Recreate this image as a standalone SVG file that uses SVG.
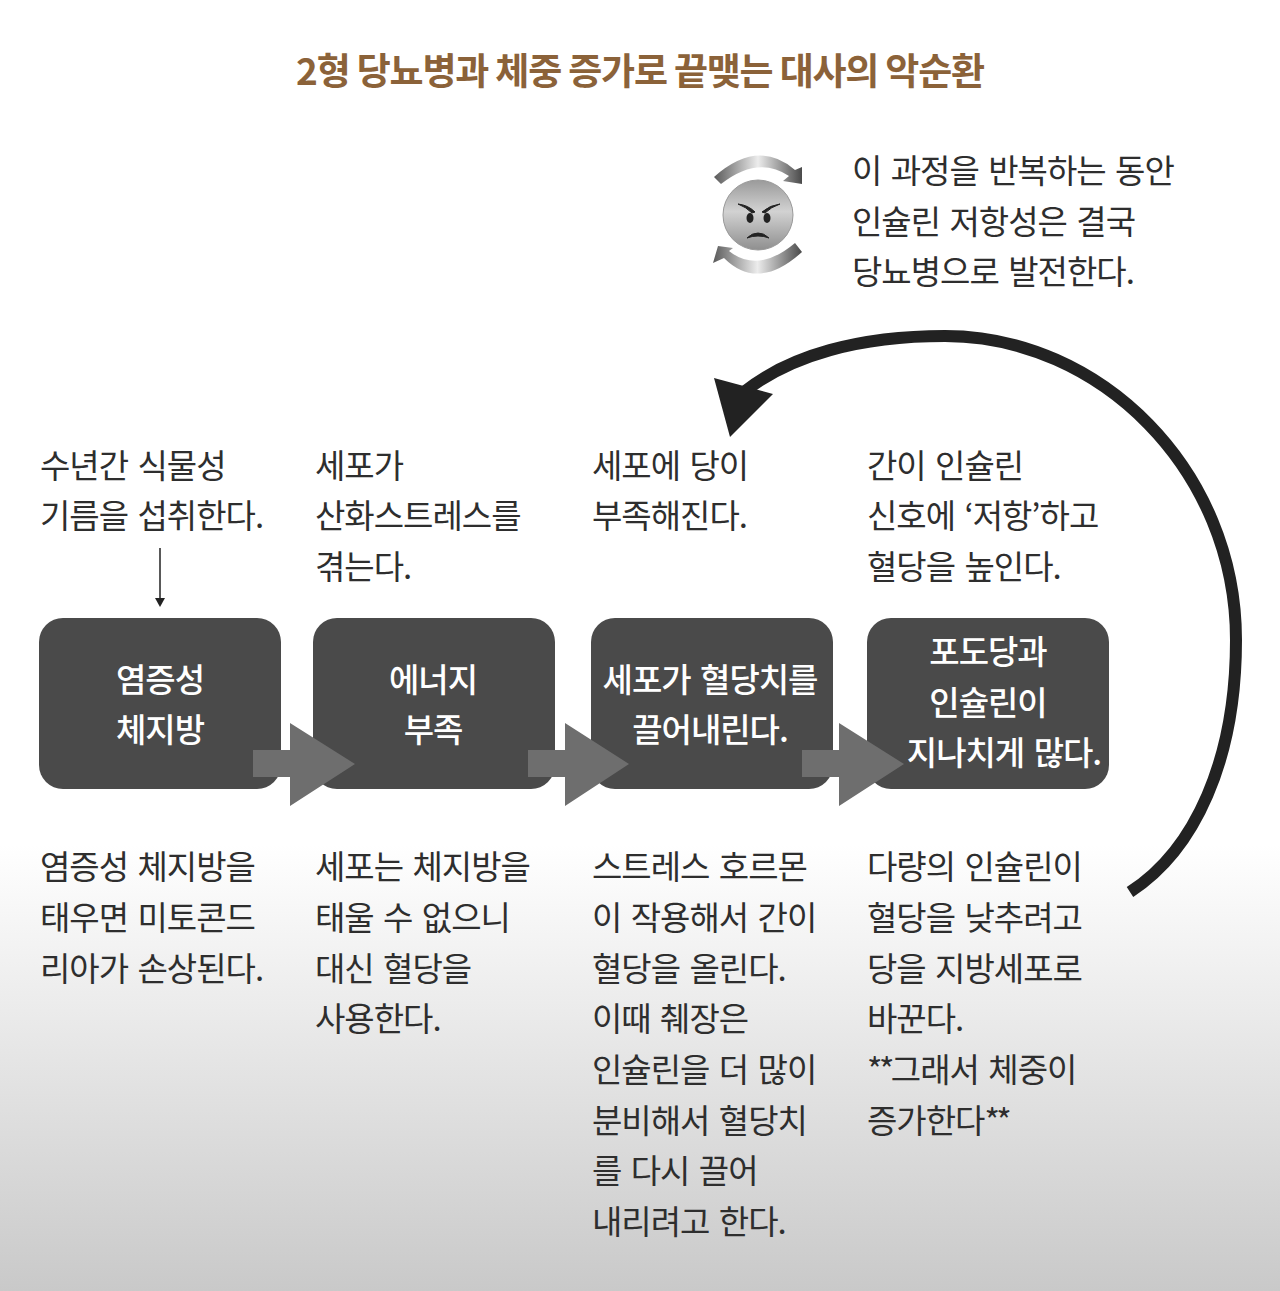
<svg xmlns="http://www.w3.org/2000/svg" width="1280" height="1291" viewBox="0 0 1280 1291">
<style>
text{font-family:"Noto Sans CJK KR","Noto Sans",sans-serif}
.t{font-size:33px;fill:#2e2e2e;font-weight:400;letter-spacing:-1px;word-spacing:3px}
.n{font-size:33px;fill:#fff;font-weight:500;text-anchor:middle;letter-spacing:-1px;word-spacing:3px}
.s{letter-spacing:-3.5px}
.box{fill:#4a4a4a}
.ga{fill:#6e6e6e}
</style>
<defs>
<linearGradient id="bg" x1="0" y1="0" x2="0" y2="1"><stop offset="0" stop-color="#fff"/><stop offset="1" stop-color="#c9c9c9"/></linearGradient>
<linearGradient id="face" x1="0" y1="0" x2="0" y2="1"><stop offset="0" stop-color="#9a9a9a"/><stop offset=".45" stop-color="#d2d2d2"/><stop offset="1" stop-color="#8f8f8f"/></linearGradient>
<linearGradient id="sw" x1="0" y1="0" x2="1" y2="0"><stop offset="0" stop-color="#5a5a5a"/><stop offset=".5" stop-color="#ececec"/><stop offset="1" stop-color="#4a4a4a"/></linearGradient>
</defs>
<rect width="1280" height="1291" fill="#fff"/>
<rect y="845" width="1280" height="446" fill="url(#bg)"/>
<text id="title" x="640" y="85" text-anchor="middle" font-size="37" font-weight="700" fill="#8b6239" letter-spacing="-1.2">2형 당뇨병과 체중 증가로 끝맺는 대사의 악순환</text>
<g id="icon">
<path d="M714 177Q758 138 795 170L802 167V184L783 181L789 176Q758 155 721 184Z" fill="url(#sw)"/>
<path d="M802 252Q758 292 724 258L713 263L718 246L733 248L729 251Q758 274 795 243Z" fill="url(#sw)"/>
<circle cx="758" cy="215" r="35" fill="url(#face)" stroke="#999" stroke-width="1"/>
<ellipse cx="750" cy="218" rx="3.5" ry="5" fill="#222"/><ellipse cx="767" cy="218" rx="3.5" ry="5" fill="#222"/>
<path d="M738 204Q748 205 755 212L752 213Q746 207 738 204ZM780 204Q770 205 762 212L765 213Q771 207 780 204Z" fill="#222" stroke="#222"/>
<path d="M747 238Q752 233 758 233Q764 233 769 238Q764 236 758 236Q752 236 747 238Z" fill="#222" stroke="#222"/>
</g>
<g id="note"><text class="t" x="852" y="183">이 과정을 반복하는 동안</text><text class="t" x="852" y="234">인슐린 저항성은 결국</text><text class="t" x="852" y="284">당뇨병으로 발전한다.</text></g>
<g id="connectors">
<path d="M1130 892C1195 850 1236 760 1236 640C1236 470 1100 336 945 336C860 336 790 355 744 392" fill="none" stroke="#222" stroke-width="12"/>
<path d="M714 378L773 394L730 437Z" fill="#222"/>
<path d="M160 548V602" stroke="#222" stroke-width="1.5" fill="none"/><path d="M155 598L160 607L165 598Z" fill="#222"/>
</g>
<g id="n1"><rect class="box" x="39" y="618" width="242" height="171" rx="24"/><text class="n" x="160" y="692">염증성</text><text class="n" x="160" y="742">체지방</text></g>
<g id="n2"><rect class="box" x="313" y="618" width="242" height="171" rx="24"/><text class="n" x="433" y="692">에너지</text><text class="n" x="433" y="742">부족</text></g>
<g id="n3"><rect class="box" x="591" y="618" width="242" height="171" rx="24"/><text class="n" x="710" y="692">세포가 혈당치를</text><text class="n" x="710" y="742">끌어내린다.</text></g>
<g id="n4"><rect class="box" x="867" y="618" width="242" height="171" rx="24"/><text class="n" x="988" y="664">포도당과</text><text class="n" x="988" y="715">인슐린이</text><text class="n" x="1004" y="765">지나치게 많다.</text></g>
<g id="arrows">
<path class="ga" d="M253 750H290V723L355 764L290 806V777H253Z"/>
<path class="ga" d="M528 750H565V723L629 764L565 806V777H528Z"/>
<path class="ga" d="M802 750H839V723L904 764L839 806V777H802Z"/>
</g>
<g id="top-labels">
<text class="t" x="40" y="478">수년간 식물성</text><text class="t" x="40" y="528">기름을 섭취한다.</text>
<text class="t" x="315" y="478">세포가</text><text class="t" x="315" y="528">산화스트레스를</text><text class="t" x="315" y="579">겪는다.</text>
<text class="t" x="592" y="478">세포에 당이</text><text class="t" x="592" y="528">부족해진다.</text>
<text class="t" x="867" y="478">간이 인슐린</text><text class="t" x="867" y="528">신호에 ‘저항’하고</text><text class="t" x="867" y="579">혈당을 높인다.</text>
</g>
<g id="bottom-labels">
<text class="t" x="40" y="879">염증성 체지방을</text><text class="t" x="40" y="930">태우면 미토콘드</text><text class="t" x="40" y="981">리아가 손상된다.</text>
<text class="t" x="315" y="879">세포는 체지방을</text><text class="t" x="315" y="930">태울 수 없으니</text><text class="t" x="315" y="981">대신 혈당을</text><text class="t" x="315" y="1031">사용한다.</text>
<text class="t" x="592" y="879">스트레스 호르몬</text><text class="t" x="592" y="930">이 작용해서 간이</text><text class="t" x="592" y="981">혈당을 올린다.</text><text class="t" x="592" y="1031">이때 췌장은</text><text class="t" x="592" y="1082">인슐린을 더 많이</text><text class="t" x="592" y="1133">분비해서 혈당치</text><text class="t" x="592" y="1183">를 다시 끌어</text><text class="t" x="592" y="1234">내리려고 한다.</text>
<text class="t" x="867" y="879">다량의 인슐린이</text><text class="t" x="867" y="930">혈당을 낮추려고</text><text class="t" x="867" y="981">당을 지방세포로</text><text class="t" x="867" y="1031">바꾼다.</text><text class="t" x="867" y="1082"><tspan class="s">**</tspan>그래서 체중이</text><text class="t" x="867" y="1133">증가한다<tspan class="s">**</tspan></text>
</g>
</svg>
